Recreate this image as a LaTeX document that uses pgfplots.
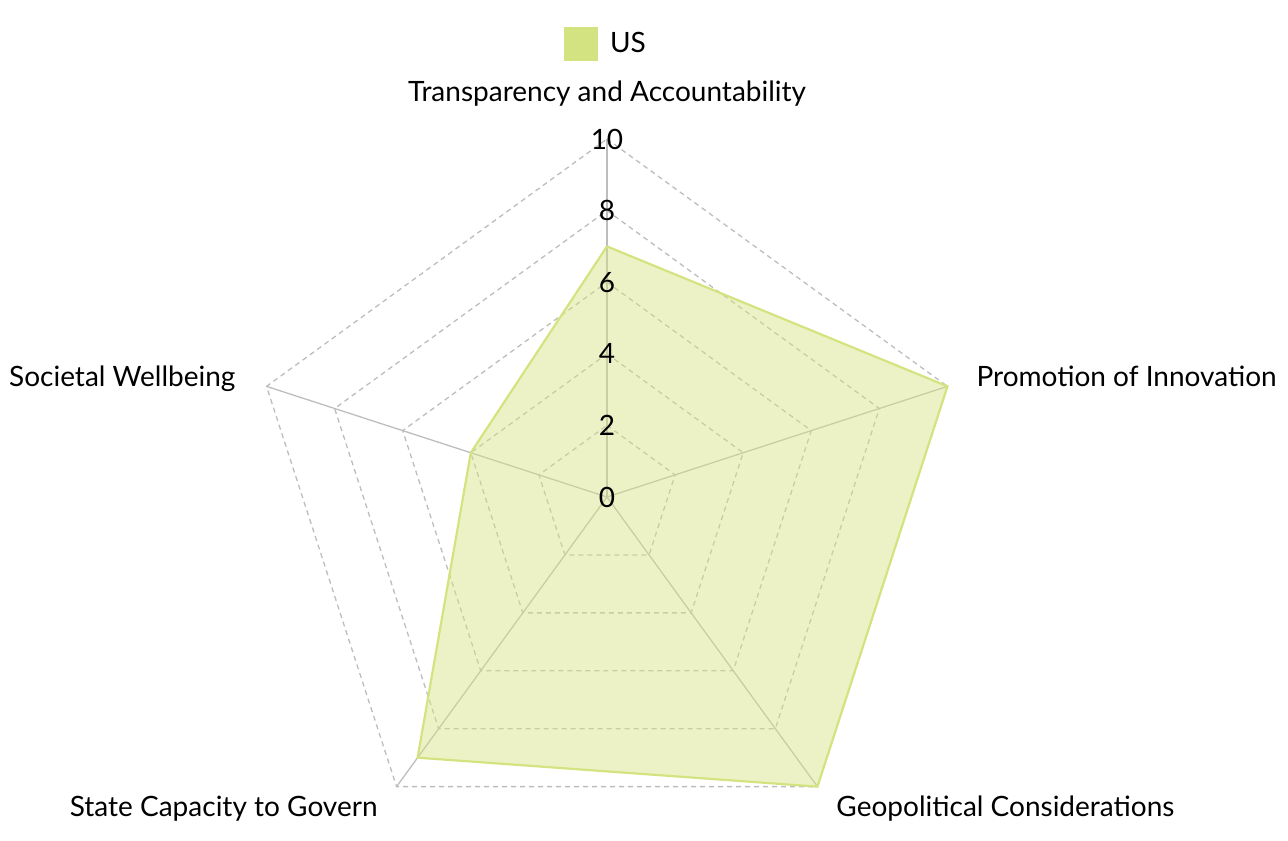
\documentclass[border=0pt]{standalone}
\usepackage{fontspec}
\setmainfont{Lato}
\usepackage{pgfplots}
\usepgfplotslibrary{polar}
\pgfplotsset{compat=1.18}
\usetikzlibrary{calc}

\definecolor{usline}{HTML}{D4E37F}
\definecolor{usfill}{HTML}{D4E381}
\definecolor{gridgray}{HTML}{BDBDBD}

\begin{document}
\begin{tikzpicture}
\begin{polaraxis}[
    scale only axis,
    width=358pt, height=358pt,
    xmin=0, xmax=360,
    ymin=0, ymax=10,
    hide axis,
    clip=false,
    font=\fontsize{14}{16}\selectfont,
    legend style={at={(axis cs:90,12.65)}, anchor=center, draw=none,
        fill=none, font=\fontsize{14}{16}\selectfont,
        legend cell align=left, inner sep=0pt},
    legend image code/.code={\fill[usfill, fill opacity=1, draw=none] (0pt,-8.5pt) rectangle (17pt,8.5pt);},
]
\coordinate (c) at (axis cs:0,0);

% grid pentagons
\pgfplotsinvokeforeach{2,4,6,8,10}{
  \addplot[gridgray, line width=0.65pt, dash pattern=on 2.5pt off 2pt, forget plot] coordinates
    {(90,#1) (18,#1) (306,#1) (234,#1) (162,#1) (90,#1)};
}
% spokes
\pgfplotsinvokeforeach{90,18,306,234,162}{
  \addplot[gridgray, line width=0.65pt, forget plot] coordinates {(#1,0) (#1,10)};
}

% US
\addplot[draw=usline, line width=1.1pt, fill=usfill, fill opacity=0.45] coordinates {
  (90,7) (18,10) (306,10) (234,9) (162,4) (90,7)
};
\addlegendentry{\hspace{4pt}US}

% tick labels
\pgfplotsinvokeforeach{0,2,4,6,8,10}{
  \node[inner sep=0pt] at (axis cs:90,#1) {#1};
}

% category labels
\node[anchor=center] at ($(axis cs:90,10)+(0,22.5pt)$) {Transparency and Accountability};
\node[anchor=west] at ($(axis cs:18,10)+(11pt,5pt)$) {Promotion of Innovation};
\node[anchor=east] at ($(axis cs:162,10)+(-12pt,4pt)$) {Societal Wellbeing};
\node[anchor=east] at ($(axis cs:234,10)+(-6pt,-11pt)$) {State Capacity to Govern};
\node[anchor=west] at ($(axis cs:306,10)+(6pt,-11pt)$) {Geopolitical Considerations};
\end{polaraxis}
\pgfresetboundingbox
\path ($(c)+(-303.5pt,248.5pt)$) rectangle ($(c)+(340.5pt,-171.5pt)$);
\end{tikzpicture}
\end{document}
